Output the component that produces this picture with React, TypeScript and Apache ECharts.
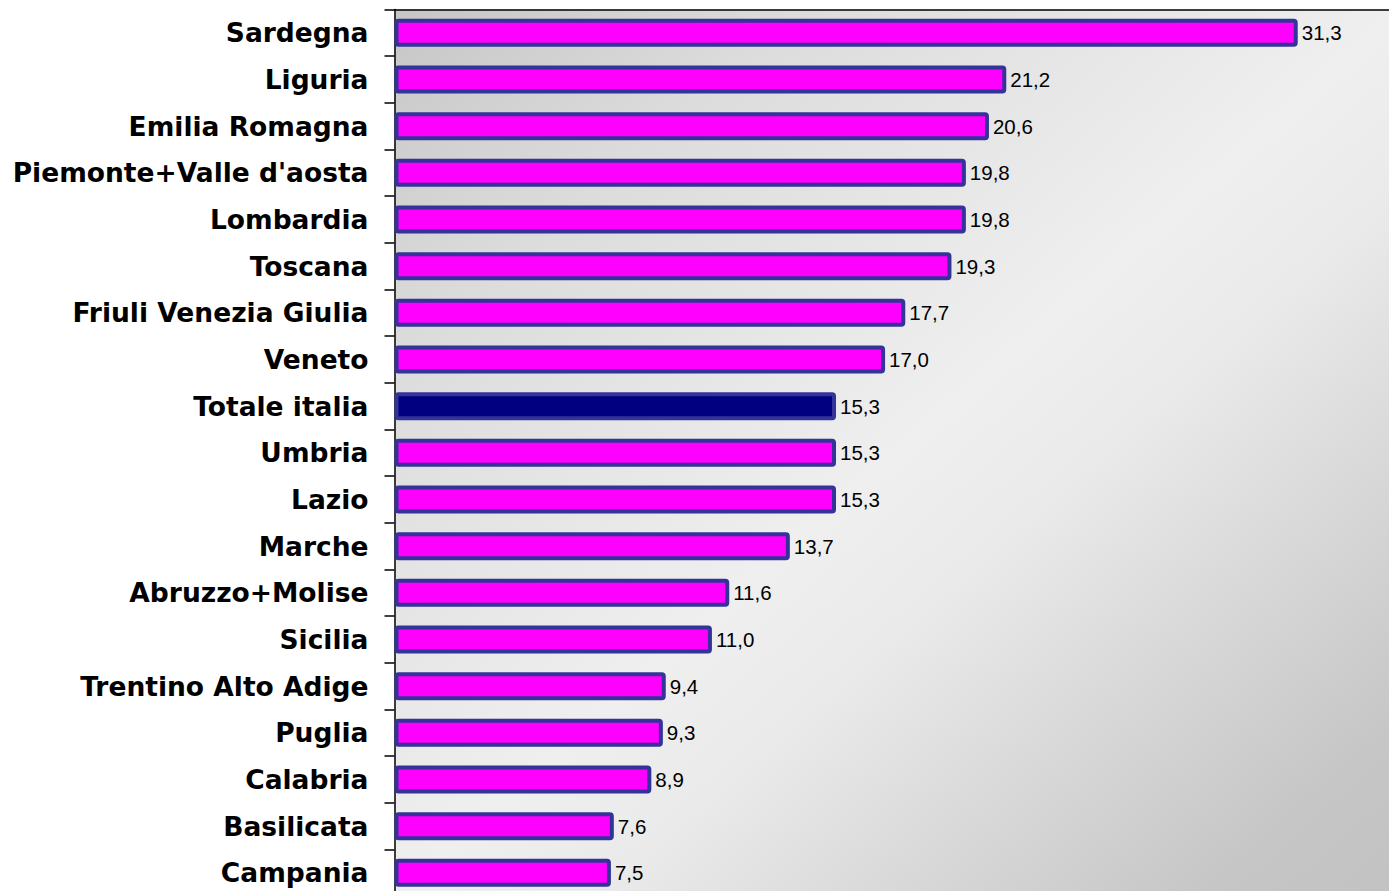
import React, { useEffect, useRef } from "react";
import * as echarts from "echarts";

const categories = [
  "Sardegna",
  "Liguria",
  "Emilia Romagna",
  "Piemonte+Valle d'aosta",
  "Lombardia",
  "Toscana",
  "Friuli Venezia Giulia",
  "Veneto",
  "Totale italia",
  "Umbria",
  "Lazio",
  "Marche",
  "Abruzzo+Molise",
  "Sicilia",
  "Trentino Alto Adige",
  "Puglia",
  "Calabria",
  "Basilicata",
  "Campania",
];

const values = [31.3, 21.2, 20.6, 19.8, 19.8, 19.3, 17.7, 17.0, 15.3, 15.3, 15.3, 13.7, 11.6, 11.0, 9.4, 9.3, 8.9, 7.6, 7.5];

const highlightCategory = "Totale italia";

export default function App() {
  const ref = useRef<HTMLDivElement>(null);

  useEffect(() => {
    if (!ref.current) return;
    const chart = echarts.init(ref.current, null, { renderer: "svg" });
    const data = values.map((v, i) =>
      categories[i] === highlightCategory
        ? { value: v, itemStyle: { color: "#000080" } }
        : { value: v }
    );
    chart.setOption({
      animation: false,
      grid: {
        left: 394.5,
        top: 9.5,
        width: 1010,
        height: 886.7,
        show: true,
        borderWidth: 0,
        backgroundColor: {
          type: "linear",
          x: 0,
          y: 0,
          x2: 1,
          y2: 1,
          colorStops: [
            { offset: 0, color: "#c6c6c6" },
            { offset: 0.2, color: "#dcdcdc" },
            { offset: 0.5, color: "#efefef" },
            { offset: 0.6, color: "#eaeaea" },
            { offset: 0.73, color: "#dadada" },
            { offset: 0.9, color: "#c6c6c6" },
            { offset: 1, color: "#c2c2c2" },
          ],
        },
      },
      xAxis: {
        type: "value",
        min: 0,
        max: 35,
        position: "top",
        axisLine: { show: true, lineStyle: { color: "#000", width: 1.5 } },
        axisTick: { show: false },
        axisLabel: { show: false },
        splitLine: { show: false },
      },
      yAxis: {
        type: "category",
        data: categories,
        inverse: true,
        axisLine: { show: true, lineStyle: { color: "#000", width: 1.5 } },
        axisTick: { show: true, length: 10, lineStyle: { color: "#000", width: 1.5 } },
        axisLabel: {
          color: "#000",
          fontFamily: "DejaVu Sans",
          fontWeight: "bold",
          fontSize: 26.5,
          margin: 26,
        },
      },
      series: [
        {
          type: "bar",
          data,
          barWidth: 28,
          itemStyle: {
            color: "#ff00ff",
            borderColor: "#333399",
            borderWidth: 4,
            borderRadius: 2,
          },
          label: {
            show: true,
            position: "right",
            distance: 4,
            color: "#000",
            fontFamily: "Liberation Sans",
            fontSize: 20.5,
            formatter: (p: any) => p.value.toFixed(1).replace(".", ","),
          },
        },
      ],
    });
    return () => chart.dispose();
  }, []);

  return (
    <div
      style={{
        position: "fixed",
        left: 0,
        top: 0,
        width: 1389,
        height: 891,
        overflow: "hidden",
        background: "#fff",
      }}
    >
      <div ref={ref} style={{ width: 1410, height: 900 }} />
    </div>
  );
}
